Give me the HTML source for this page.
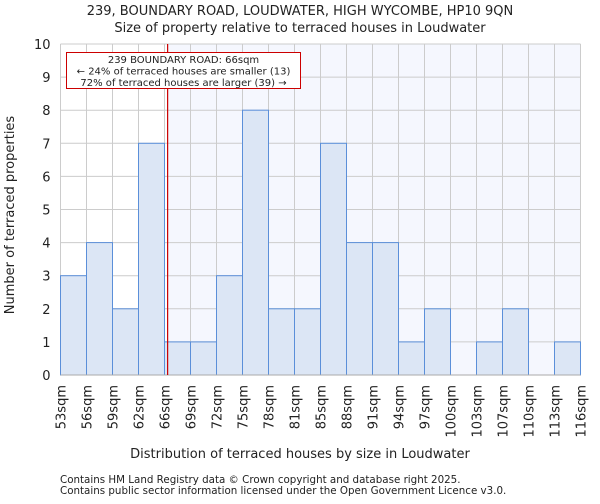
<!DOCTYPE html>
<html><head><meta charset="utf-8"><style>
body{margin:0;background:#fff;font-family:"DejaVu Sans","Liberation Sans",sans-serif;}
svg text{font-family:"DejaVu Sans","Liberation Sans",sans-serif;fill:#222}
</style></head><body>
<svg id="c" width="600" height="500">
<text x="300" y="15" text-anchor="middle" font-size="13">239, BOUNDARY ROAD, LOUDWATER, HIGH WYCOMBE, HP10 9QN</text>
<text x="300" y="32" text-anchor="middle" font-size="13">Size of property relative to terraced houses in Loudwater</text>
<g id="plot"></g>
<text x="300" y="458" text-anchor="middle" font-size="13">Distribution of terraced houses by size in Loudwater</text>
<text x="14" y="215" text-anchor="middle" font-size="13" transform="rotate(-90 14 215)">Number of terraced properties</text>
<text x="60" y="483" font-size="10.3">Contains HM Land Registry data © Crown copyright and database right 2025.</text>
<text x="60" y="494" font-size="10.3">Contains public sector information licensed under the Open Government Licence v3.0.</text>
</svg>
<script>
const categories=["53sqm","56sqm","59sqm","62sqm","66sqm","69sqm","72sqm","75sqm","78sqm","81sqm","85sqm","88sqm","91sqm","94sqm","97sqm","100sqm","103sqm","107sqm","110sqm","113sqm","116sqm"];
const counts=[3,4,2,7,1,1,3,8,2,2,7,4,4,1,2,0,1,2,0,1];
const yTicks=[0,1,2,3,4,5,6,7,8,9,10];
const markerBin=4.12;
const NS="http://www.w3.org/2000/svg";
const L=60.5,R=580.5,T=44,B=375,nb=counts.length;
const x=i=>L+i*(R-L)/nb;
const y=v=>B-v*(B-T)/10;
const g=document.getElementById('plot');
function mk(t,a){const e=document.createElementNS(NS,t);for(const k in a)e.setAttribute(k,a[k]);g.appendChild(e);return e;}
let e=mk('rect',{x:x(markerBin),y:T,width:R-x(markerBin),height:B-T,fill:'#f5f7fe'});


yTicks.forEach(v=>{
 let l=mk('line',{x1:L,x2:R,y1:y(v),y2:y(v),stroke:'#cccccc'});
 
 
 let t=mk('text',{x:L-10,y:y(v)+5,'text-anchor':'end','font-size':13});
 t.textContent=v;
 
 
});
categories.forEach((c,i)=>{
 let l=mk('line',{x1:x(i),x2:x(i),y1:T,y2:B,stroke:'#cccccc'});
 
 
 let t=mk('text',{x:0,y:0,'text-anchor':'end','font-size':13,transform:`translate(${x(i)+5},${B+10}) rotate(-90)`});
 t.textContent=c;
 
 
});
counts.forEach((v,i)=>{
 if(v<=0)return;
 let r=mk('rect',{x:x(i),y:y(v),width:x(i+1)-x(i),height:B-y(v),fill:'#dce6f5',stroke:'#5b8fd9','stroke-width':1});
 
 
});
let ax=mk('line',{x1:L,x2:R,y1:B,y2:B,stroke:'#aaaaaa'});


let ml=mk('line',{x1:x(markerBin),x2:x(markerBin),y1:T,y2:B,stroke:'#cc0000','stroke-width':1.2});


let bx=mk('rect',{x:66.5,y:52.5,width:234,height:36,fill:'#fff',stroke:'#cc0000'});


["239 BOUNDARY ROAD: 66sqm","← 24% of terraced houses are smaller (13)","72% of terraced houses are larger (39) →"].forEach((s,k)=>{
 let t=mk('text',{x:183.5,y:63+k*11.5,'text-anchor':'middle','font-size':10});
 t.textContent=s;
 
 
});
</script>
</body></html>
